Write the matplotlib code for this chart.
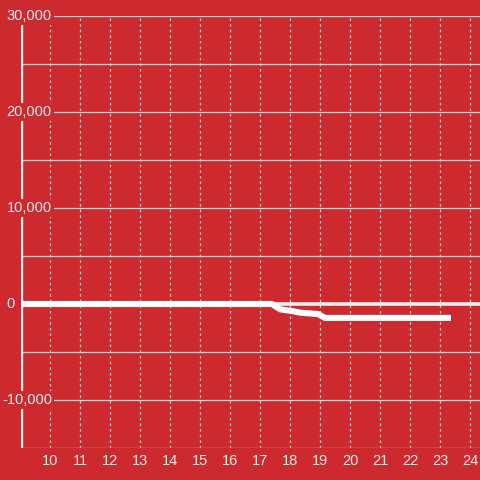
import matplotlib
matplotlib.use("Agg")
import matplotlib.pyplot as plt

# data
xs = [9.0, 17.38, 17.65, 18.08, 18.32, 18.92, 19.15, 23.35]
ys = [0, 0, -550, -750, -900, -1050, -1450, -1450]
x_ticks = list(range(10, 25))
y_major = [-10000, 0, 10000, 20000, 30000]
y_minor = [-15000, -5000, 5000, 15000, 25000]
y_labels = ["-10,000", "0", "10,000", "20,000", "30,000"]

RED = "#cc2a2f"
GRID = "#d8d8d8"
TXT = "#f4eeee"

plt.rcParams['font.family'] = ['Liberation Sans', 'DejaVu Sans']
fig = plt.figure(figsize=(4.8, 4.8), dpi=100, facecolor=RED)
W = H = 480
ax = fig.add_axes([20.5 / W, (480 - 448) / H, 1 - 20.5 / W, (448 - 16) / H])
ax.set_facecolor(RED)
ax.set_xlim(9, 24.317)
ax.set_ylim(-15000, 30000)
for s in ax.spines.values():
    s.set_visible(False)
ax.set_xticks([])
ax.set_yticks([])

# vertical dotted grid
for x in x_ticks:
    ax.axvline(x, color=GRID, lw=0.9, ls=(0, (2, 2.5)), zorder=1)
# horizontal grid
for y in y_major + y_minor:
    if y == 0:
        continue
    ax.axhline(y, color=GRID, lw=0.9, zorder=1)
# zero line
ax.axhline(0, color="#eeeeee", lw=2.6, zorder=2)
# left axis
ax.axvline(9, color="#eeeeee", lw=2.4, zorder=3)

# data line
ax.plot(xs, ys, color="white", lw=4.4, solid_capstyle="butt",
        solid_joinstyle="round", zorder=4)

# y labels (red box hides axis/grid behind them)
for v, lab in zip(y_major, y_labels):
    xpx = 6.5 if not lab.startswith("-") else 2.3
    ypix = ax.transData.transform((9, v))[1]
    fig.text(xpx / W, ypix / H, lab, ha="left", va="center", fontsize=10.5,
             color=TXT, zorder=6,
             bbox=dict(facecolor=RED, edgecolor="none", pad=1.5))

# x labels
xlab_y = (480 - 461) / H
for x in x_ticks:
    xpix = ax.transData.transform((x, 0))[0]
    fig.text(xpix / W, xlab_y, str(x), ha="center", va="center",
             fontsize=10.5, color=TXT)

fig.savefig("out.png", dpi=100, facecolor=RED)
